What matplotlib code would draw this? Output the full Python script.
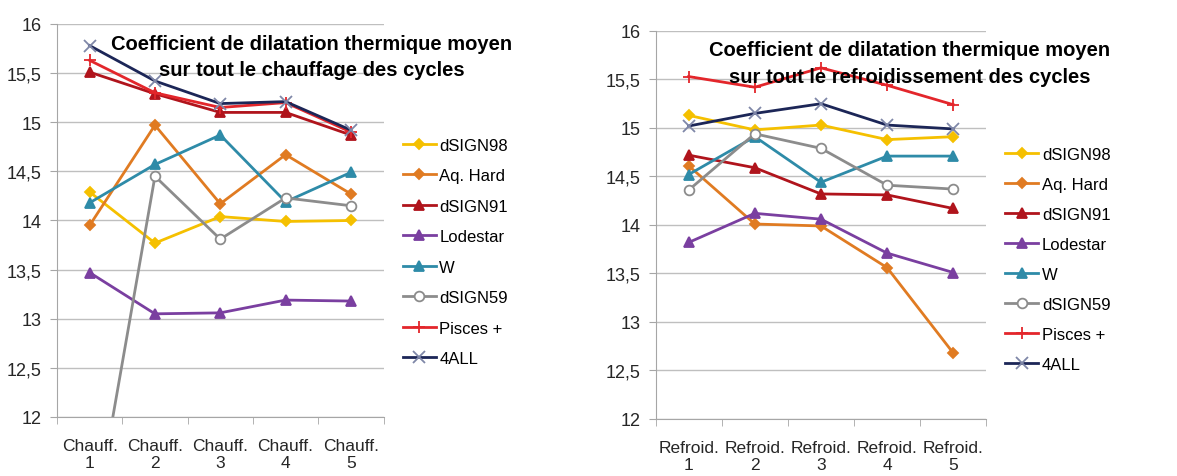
import numpy as np
import matplotlib
matplotlib.use("Agg")
import matplotlib.pyplot as plt

plt.rcParams['font.family'] = ['Liberation Sans', 'DejaVu Sans']

series = ["dSIGN98", "Aq. Hard", "dSIGN91", "Lodestar", "W", "dSIGN59", "Pisces +", "4ALL"]
cats_heat = ["Chauff.\n1", "Chauff.\n2", "Chauff.\n3", "Chauff.\n4", "Chauff.\n5"]
cats_cool = ["Refroid.\n1", "Refroid.\n2", "Refroid.\n3", "Refroid.\n4", "Refroid.\n5"]

# chauffage
heat_dsign98 = [14.29, 13.77, 14.04, 13.99, 14.00]
heat_aqhard = [13.95, 14.97, 14.17, 14.67, 14.27]
heat_dsign91 = [15.51, 15.29, 15.10, 15.10, 14.87]
heat_lodestar = [13.47, 13.05, 13.06, 13.19, 13.18]
heat_w = [14.18, 14.57, 14.87, 14.19, 14.49]
heat_dsign59 = [10.65, 14.45, 13.81, 14.23, 14.15]
heat_pisces = [15.63, 15.30, 15.15, 15.20, 14.90]
heat_4all = [15.78, 15.42, 15.19, 15.21, 14.92]

# refroidissement
cool_dsign98 = [15.13, 14.98, 15.03, 14.88, 14.91]
cool_aqhard = [14.61, 14.01, 13.99, 13.56, 12.68]
cool_dsign91 = [14.72, 14.59, 14.32, 14.31, 14.17]
cool_lodestar = [13.82, 14.12, 14.06, 13.71, 13.51]
cool_w = [14.52, 14.91, 14.44, 14.71, 14.71]
cool_dsign59 = [14.36, 14.94, 14.79, 14.41, 14.37]
cool_pisces = [15.53, 15.42, 15.62, 15.44, 15.24]
cool_4all = [15.02, 15.15, 15.25, 15.03, 14.99]

heat = [heat_dsign98, heat_aqhard, heat_dsign91, heat_lodestar, heat_w, heat_dsign59, heat_pisces, heat_4all]
cool = [cool_dsign98, cool_aqhard, cool_dsign91, cool_lodestar, cool_w, cool_dsign59, cool_pisces, cool_4all]

styles = [
    dict(color="#F5C000", marker="D", ms=5, mfc="#F5C000", mec="#F5C000"),
    dict(color="#E07B22", marker="D", ms=5, mfc="#E07B22", mec="#E07B22"),
    dict(color="#B0141C", marker="^", ms=7, mfc="#B0141C", mec="#B0141C"),
    dict(color="#7A3FA0", marker="^", ms=7, mfc="#7A3FA0", mec="#7A3FA0"),
    dict(color="#2E8BA8", marker="^", ms=7, mfc="#2E8BA8", mec="#2E8BA8"),
    dict(color="#8C8C8C", marker="o", ms=7, mfc="white", mec="#8C8C8C"),
    dict(color="#E3262B", marker="+", ms=9, mfc="#E3262B", mec="#E3262B"),
    dict(color="#1C2657", marker="x", ms=8, mfc="#7F87A8", mec="#7F87A8"),
]

fig = plt.figure(figsize=(11.77, 4.77), dpi=100)
ax1 = fig.add_axes([0.0484, 0.1237, 0.2775, 0.8239])
ax2 = fig.add_axes([0.557, 0.1195, 0.281, 0.8135])

x = np.arange(1, 6)


def setup(ax, data, cats):
    for vals, name, st in zip(data, series, styles):
        ax.plot(x, vals, label=name, lw=2, mew=1.3, **st)
    ax.set_xlim(0.5, 5.5)
    ax.set_ylim(12, 16)
    ax.set_yticks(np.arange(12, 16.01, 0.5))
    ax.set_yticklabels([("%g" % v).replace(".", ",") for v in np.arange(12, 16.01, 0.5)])
    ax.set_xticks(x)
    ax.set_xticklabels(cats, linespacing=1.2)
    ax.set_xticks(np.arange(0.5, 5.6, 1), minor=True)
    ax.tick_params(axis="x", which="major", length=0, labelsize=12.5, pad=15, colors="#262626")
    ax.tick_params(axis="x", which="minor", length=5, color="#A6A6A6")
    ax.tick_params(axis="y", length=5, labelsize=13, pad=6, colors="#262626")
    ax.tick_params(axis="y", color="#A6A6A6")
    ax.yaxis.grid(True, color="#BFBFBF", lw=1)
    ax.set_axisbelow(True)
    for s in ["top", "right"]:
        ax.spines[s].set_visible(False)
    for s in ["left", "bottom"]:
        ax.spines[s].set_color("#A6A6A6")


setup(ax1, heat, cats_heat)
setup(ax2, cool, cats_cool)

ax1.legend(loc="upper left", bbox_to_anchor=(0.342, 0.709), bbox_transform=fig.transFigure,
           frameon=False, fontsize=12, handlelength=2.0, handletextpad=0.2,
           labelspacing=0.93, borderpad=0, borderaxespad=0)
ax2.legend(loc="upper left", bbox_to_anchor=(0.854, 0.690), bbox_transform=fig.transFigure,
           frameon=False, fontsize=12, handlelength=2.0, handletextpad=0.2,
           labelspacing=0.9, borderpad=0, borderaxespad=0)

fig.text(0.265, 0.880, "Coefficient de dilatation thermique moyen\nsur tout le chauffage des cycles",
         ha="center", va="center", fontsize=14.5, fontweight="bold", linespacing=1.45)
fig.text(0.773, 0.866, "Coefficient de dilatation thermique moyen\nsur tout le refroidissement des cycles",
         ha="center", va="center", fontsize=14.5, fontweight="bold", linespacing=1.5)

fig.savefig("out.png", dpi=100)
